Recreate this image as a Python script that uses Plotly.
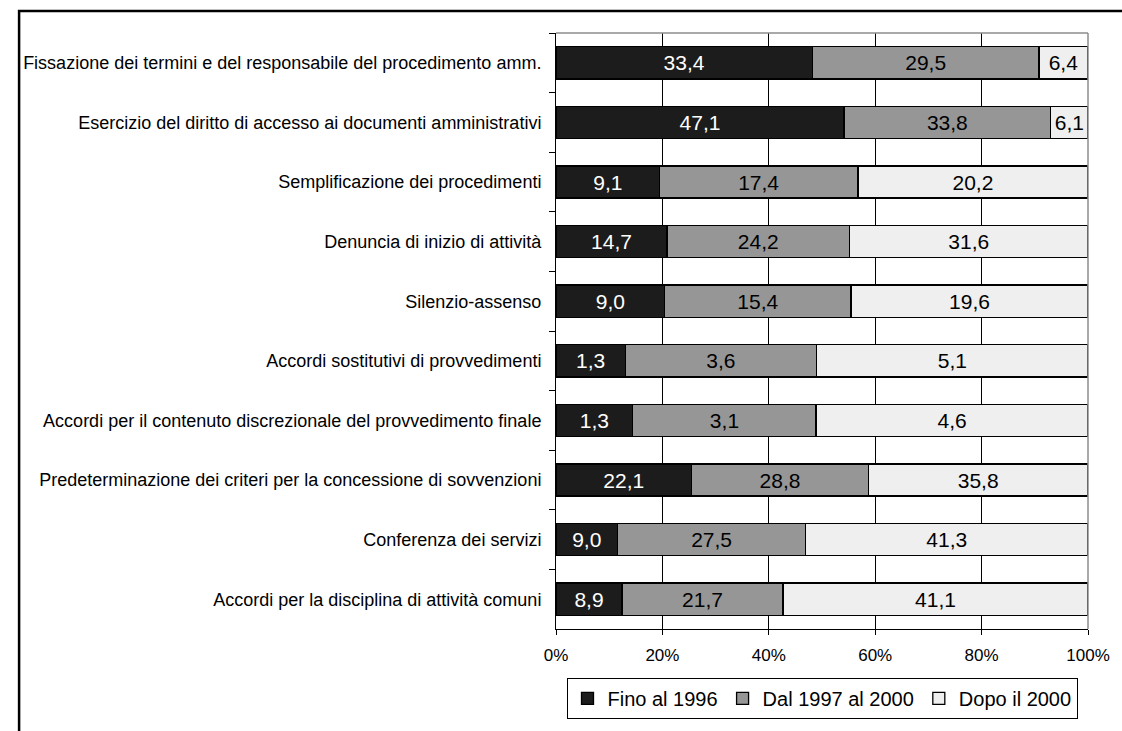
import plotly.graph_objects as go

# Procedure categories, top to bottom
categories = [
    "Fissazione dei termini e del responsabile del procedimento amm.",
    "Esercizio del diritto di accesso ai documenti amministrativi",
    "Semplificazione dei procedimenti",
    "Denuncia di inizio di attività",
    "Silenzio-assenso",
    "Accordi sostitutivi di provvedimenti",
    "Accordi per il contenuto discrezionale del provvedimento finale",
    "Predeterminazione dei criteri per la concessione di sovvenzioni",
    "Conferenza dei servizi",
    "Accordi per la disciplina di attività comuni",
]

fino_1996 = [33.4, 47.1, 9.1, 14.7, 9.0, 1.3, 1.3, 22.1, 9.0, 8.9]
dal_1997_al_2000 = [29.5, 33.8, 17.4, 24.2, 15.4, 3.6, 3.1, 28.8, 27.5, 21.7]
dopo_2000 = [6.4, 6.1, 20.2, 31.6, 19.6, 5.1, 4.6, 35.8, 41.3, 41.1]

series_names = ["Fino al 1996", "Dal 1997 al 2000", "Dopo il 2000"]
x_ticks = [0, 20, 40, 60, 80, 100]

series = [fino_1996, dal_1997_al_2000, dopo_2000]
fills = ["#1c1c1c", "#969696", "#efefef"]
text_colors = ["white", "black", "black"]

FONT = "Liberation Sans, Arial, sans-serif"

# Figure geometry (pixels)
W, H = 1122, 731
ML, MR, MT, MB = 556, 24, 33, 101
PW = W - ML - MR
PH = H - MT - MB


def px_x(p):
    return (p - ML) / PW


def px_y(p):
    return 1 - (p - MT) / PH


def it(v):
    return f"{v:.1f}".replace(".", ",")


fig = go.Figure()
for name, vals, fill, tc in zip(series_names, series, fills, text_colors):
    fig.add_trace(go.Bar(
        y=categories,
        x=vals,
        name=name,
        orientation="h",
        marker=dict(color=fill, line=dict(color="black", width=1.3)),
        text=[it(v) for v in vals],
        textposition="inside",
        insidetextanchor="middle",
        textangle=0,
        textfont=dict(family=FONT, size=21, color=tc),
        hoverinfo="skip",
    ))

fig.update_layout(
    width=W,
    height=H,
    barmode="stack",
    barnorm="percent",
    bargap=0.46,
    margin=dict(l=ML, r=MR, t=MT, b=MB),
    paper_bgcolor="white",
    plot_bgcolor="white",
    font=dict(family=FONT, color="black"),
    showlegend=True,
    legend=dict(
        orientation="h",
        x=0.5,
        xanchor="center",
        y=px_y(679),
        yanchor="top",
        bordercolor="black",
        borderwidth=1,
        bgcolor="white",
        font=dict(family=FONT, size=20, color="black"),
        traceorder="normal",
    ),
    xaxis=dict(
        range=[0, 100],
        tickvals=x_ticks,
        ticktext=[f"{t}%" for t in x_ticks],
        showgrid=True,
        gridcolor="black",
        gridwidth=1,
        showline=True,
        linecolor="black",
        linewidth=1,
        ticks="outside",
        ticklen=5,
        tickcolor="black",
        tickfont=dict(family=FONT, size=17, color="black"),
        ticklabelstandoff=6,
        zeroline=False,
        fixedrange=True,
    ),
    yaxis=dict(
        autorange="reversed",
        showline=True,
        linecolor="black",
        linewidth=1,
        ticks="outside",
        ticklen=6,
        tickcolor="black",
        tickson="boundaries",
        tickfont=dict(family=FONT, size=18, color="black"),
        ticklabelstandoff=10,
        showgrid=False,
        fixedrange=True,
    ),
    shapes=[
        # plot area top and right edges
        dict(type="line", xref="paper", yref="paper", x0=0, x1=1, y0=1, y1=1,
             line=dict(color="#8c8c8c", width=1.5)),
        dict(type="line", xref="paper", yref="paper", x0=1, x1=1, y0=0, y1=1,
             line=dict(color="#8c8c8c", width=1.5)),
        # chart frame
        dict(type="rect", xref="paper", yref="paper",
             x0=px_x(9), x1=px_x(1135), y0=px_y(745), y1=px_y(11),
             line=dict(color="black", width=2.5), fillcolor="rgba(0,0,0,0)",
             layer="above"),
    ],
)

fig.write_html("out.html")
